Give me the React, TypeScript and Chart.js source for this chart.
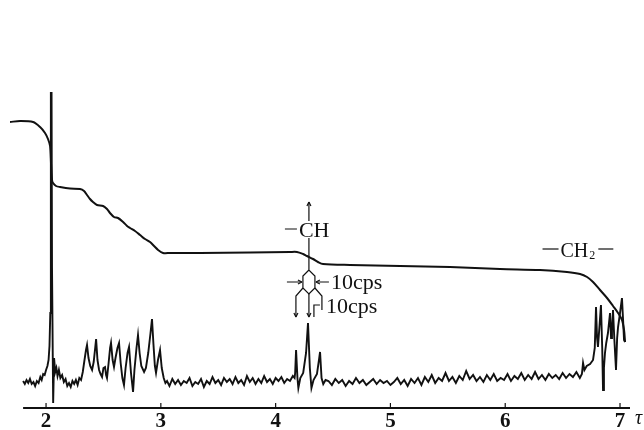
import React, { useEffect, useRef } from "react";
import { Chart, registerables } from "chart.js";

Chart.register(...registerables);

// Chemical shift axis (tau) and intensity (arbitrary units)
const tauTicks = [2, 3, 4, 5, 6, 7];
const tauMin = 1.686;
const tauMax = 7.087;
const axisStart = 1.8;

// NMR absorption trace [tau, intensity]
const spectrum: [number, number][] = [
  [1.8, 27], [1.815, 24], [1.83, 28], [1.845, 25], [1.86, 29], [1.875, 24], [1.89, 26], [1.905, 22],
  [1.92, 27], [1.935, 25], [1.95, 31], [1.962, 28], [1.975, 34], [1.988, 33], [2.0, 38], [2.012, 42],
  [2.022, 48], [2.03, 62], [2.037, 95], [2.042, 316], [2.045, 180], [2.048, 316], [2.052, 140], [2.062, 5],
  [2.07, 50], [2.08, 36], [2.09, 40], [2.1, 32], [2.112, 38], [2.125, 30], [2.14, 33], [2.155, 26],
  [2.17, 29], [2.185, 22], [2.2, 25], [2.215, 21], [2.23, 27], [2.245, 24], [2.26, 28], [2.275, 23],
  [2.29, 30], [2.305, 28], [2.32, 36], [2.335, 48], [2.348, 58], [2.357, 63], [2.37, 50], [2.385, 42],
  [2.401, 38], [2.415, 46], [2.428, 60], [2.436, 69], [2.448, 48], [2.462, 38], [2.475, 34], [2.488, 31],
  [2.5, 40], [2.514, 41], [2.523, 33], [2.531, 30], [2.545, 45], [2.558, 60], [2.566, 65], [2.58, 48],
  [2.592, 41], [2.605, 50], [2.622, 60], [2.636, 65], [2.65, 45], [2.665, 30], [2.679, 23], [2.693, 40],
  [2.71, 55], [2.723, 61], [2.74, 35], [2.758, 16], [2.77, 38], [2.788, 60], [2.801, 73], [2.815, 55],
  [2.83, 42], [2.854, 36], [2.87, 40], [2.89, 55], [2.91, 75], [2.923, 89], [2.935, 65], [2.948, 42],
  [2.958, 35], [2.975, 48], [2.993, 58], [3.008, 40], [3.025, 30], [3.04, 25], [3.054, 27],
  [3.075, 22], [3.1, 29], [3.125, 24], [3.15, 28], [3.175, 23], [3.2, 27], [3.225, 25], [3.25, 30],
  [3.275, 22], [3.3, 26], [3.325, 24], [3.35, 29], [3.375, 21], [3.4, 27], [3.425, 24], [3.45, 31],
  [3.475, 25], [3.5, 28], [3.525, 23], [3.55, 30], [3.575, 26], [3.6, 29], [3.625, 24], [3.65, 31],
  [3.675, 25], [3.7, 28], [3.725, 23], [3.75, 32], [3.775, 26], [3.8, 30], [3.825, 24], [3.85, 29],
  [3.875, 25], [3.9, 32], [3.925, 26], [3.95, 29], [3.975, 24], [4.0, 30], [4.025, 27], [4.05, 31],
  [4.075, 25], [4.1, 29], [4.125, 27], [4.15, 32], [4.165, 30],
  [4.17, 35], [4.178, 58], [4.19, 30], [4.198, 20], [4.215, 30], [4.24, 35], [4.265, 55], [4.282, 85],
  [4.298, 40], [4.312, 20], [4.33, 28], [4.36, 34], [4.38, 50], [4.387, 56], [4.4, 30], [4.415, 24],
  [4.435, 28], [4.46, 27], [4.49, 23], [4.52, 29], [4.55, 25], [4.58, 28], [4.61, 22], [4.64, 27],
  [4.67, 24], [4.7, 30], [4.73, 25], [4.76, 28], [4.79, 23], [4.82, 26], [4.85, 29], [4.88, 24],
  [4.91, 28], [4.94, 25], [4.97, 27], [5.0, 23], [5.03, 26], [5.06, 30], [5.09, 24], [5.12, 28],
  [5.15, 22], [5.18, 29], [5.21, 25], [5.24, 30], [5.27, 23], [5.3, 31], [5.33, 26], [5.36, 33],
  [5.39, 25], [5.42, 30], [5.45, 27], [5.48, 35], [5.51, 27], [5.54, 31], [5.57, 25], [5.6, 32],
  [5.63, 28], [5.66, 37], [5.69, 29], [5.72, 33], [5.75, 27], [5.78, 31], [5.81, 26], [5.84, 33],
  [5.87, 28], [5.9, 34], [5.93, 27], [5.96, 30], [5.99, 28], [6.02, 34], [6.05, 27], [6.08, 32],
  [6.11, 29], [6.14, 35], [6.17, 28], [6.2, 33], [6.23, 29], [6.26, 36], [6.29, 29], [6.32, 33],
  [6.35, 28], [6.38, 34], [6.41, 30], [6.44, 33], [6.47, 29], [6.5, 35], [6.53, 30], [6.56, 34],
  [6.59, 31], [6.62, 36], [6.65, 30], [6.668, 34], [6.678, 45], [6.69, 38], [6.71, 42], [6.739, 44],
  [6.765, 48], [6.78, 60], [6.791, 101], [6.8, 70], [6.808, 61], [6.82, 80], [6.834, 103], [6.845, 60],
  [6.852, 18], [6.86, 40], [6.869, 55], [6.88, 65], [6.895, 75], [6.913, 95], [6.922, 70], [6.93, 78],
  [6.939, 98], [6.95, 70], [6.965, 38], [6.975, 70], [6.983, 81], [7.0, 95], [7.017, 110], [7.028, 85],
  [7.035, 68], [7.044, 66],
];

// Integral curve [tau, height]
const integral: [number, number][] = [
  [1.686, 286], [1.774, 287], [1.887, 286], [1.948, 281], [1.991, 275], [2.017, 269], [2.035, 262],
  [2.044, 243], [2.052, 228], [2.061, 225], [2.087, 222], [2.122, 221], [2.209, 219.5], [2.296, 219],
  [2.331, 217], [2.357, 213], [2.383, 209], [2.409, 206], [2.444, 203], [2.497, 202], [2.531, 199],
  [2.557, 195], [2.592, 191], [2.627, 190], [2.671, 186], [2.706, 182], [2.732, 180], [2.775, 177],
  [2.819, 173], [2.862, 169], [2.906, 166], [2.941, 162], [2.976, 158], [3.019, 155], [3.08, 155],
  [3.341, 155], [3.777, 155.5], [4.125, 156], [4.186, 156], [4.239, 154], [4.273, 152], [4.326, 149],
  [4.369, 146], [4.413, 144], [4.648, 143], [5.084, 142], [5.519, 141], [5.955, 139], [6.303, 138],
  [6.538, 136], [6.652, 134], [6.713, 131], [6.765, 126], [6.826, 118], [6.887, 110], [6.939, 102],
  [6.983, 95], [7.017, 88], [7.035, 78], [7.044, 66],
];

const chLabel = "CH";
const ch2Label = "CH";
const ch2Sub = "2";
const splitLabel = "10cps";
const axisSymbol = "τ";

const SERIF = '"Liberation Serif", "DejaVu Serif", serif';

function arrowHead(ctx: CanvasRenderingContext2D, x: number, y: number, dx: number, dy: number) {
  const s = 4;
  ctx.beginPath();
  ctx.moveTo(x, y);
  ctx.lineTo(x - dx * s - dy * s * 0.5, y - dy * s - dx * s * 0.5);
  ctx.moveTo(x, y);
  ctx.lineTo(x - dx * s + dy * s * 0.5, y - dy * s + dx * s * 0.5);
  ctx.stroke();
}

const decorPlugin = {
  id: "decor",
  afterDraw(chart: any) {
    const ctx: CanvasRenderingContext2D = chart.ctx;
    const xs = chart.scales.x;
    const ys = chart.scales.y;
    ctx.save();
    ctx.strokeStyle = "#111";
    ctx.fillStyle = "#111";
    // axis line
    const yb = ys.bottom;
    ctx.lineWidth = 2;
    ctx.beginPath();
    ctx.moveTo(xs.getPixelForValue(axisStart), yb);
    ctx.lineTo(xs.right, yb);
    ctx.stroke();
    // tick marks pointing up
    ctx.lineWidth = 1.2;
    tauTicks.forEach((t) => {
      const px = xs.getPixelForValue(t);
      ctx.beginPath();
      ctx.moveTo(px, yb);
      ctx.lineTo(px, yb - 5);
      ctx.stroke();
    });
    // tau symbol
    ctx.font = `italic 20px ${SERIF}`;
    ctx.textBaseline = "middle";
    ctx.textAlign = "left";
    ctx.fillText(axisSymbol, xs.right + 5, yb + 11);

    // CH annotation with splitting diagram
    const ax = xs.getPixelForValue(4.29);
    const ay = ys.getPixelForValue(150);
    ctx.lineWidth = 1.2;
    ctx.beginPath();
    ctx.moveTo(ax, ay - 56);
    ctx.lineTo(ax, ay - 37);
    ctx.moveTo(ax, ay - 20);
    ctx.lineTo(ax, ay + 12);
    ctx.moveTo(ax - 24, ay - 29);
    ctx.lineTo(ax - 12, ay - 29);
    // hexagon
    ctx.moveTo(ax, ay + 12);
    ctx.lineTo(ax - 6, ay + 18);
    ctx.lineTo(ax - 6, ay + 30);
    ctx.lineTo(ax, ay + 36);
    ctx.lineTo(ax + 6, ay + 30);
    ctx.lineTo(ax + 6, ay + 18);
    ctx.closePath();
    ctx.stroke();
    // horizontal arrows
    ctx.beginPath();
    ctx.moveTo(ax - 22, ay + 24);
    ctx.lineTo(ax - 7, ay + 24);
    ctx.moveTo(ax + 20, ay + 24);
    ctx.lineTo(ax + 7, ay + 24);
    ctx.stroke();
    arrowHead(ctx, ax - 7, ay + 24, 1, 0);
    arrowHead(ctx, ax + 7, ay + 24, -1, 0);
    // prongs
    ctx.beginPath();
    ctx.moveTo(ax - 6, ay + 30);
    ctx.lineTo(ax - 13, ay + 38);
    ctx.lineTo(ax - 13, ay + 59);
    ctx.moveTo(ax, ay + 36);
    ctx.lineTo(ax, ay + 59);
    ctx.moveTo(ax + 6, ay + 30);
    ctx.lineTo(ax + 13, ay + 38);
    ctx.lineTo(ax + 13, ay + 52);
    ctx.moveTo(ax + 5, ay + 59);
    ctx.lineTo(ax + 5, ay + 47);
    ctx.lineTo(ax + 11, ay + 47);
    ctx.stroke();
    arrowHead(ctx, ax - 13, ay + 59, 0, 1);
    arrowHead(ctx, ax, ay + 59, 0, 1);
    arrowHead(ctx, ax, ay - 56, 0, -1);

    ctx.font = `22px ${SERIF}`;
    ctx.textAlign = "left";
    ctx.textBaseline = "alphabetic";
    ctx.fillText(chLabel, ax - 10, ay - 21);
    ctx.textBaseline = "middle";
    ctx.fillText(splitLabel, ax + 22, ay + 25);
    ctx.fillText(splitLabel, ax + 17, ay + 49);

    // CH2 annotation
    const bx = xs.getPixelForValue(6.9);
    const by = ys.getPixelForValue(150);
    ctx.lineWidth = 1.2;
    ctx.beginPath();
    ctx.moveTo(bx - 66, by - 9);
    ctx.lineTo(bx - 50, by - 9);
    ctx.stroke();
    ctx.font = `20px ${SERIF}`;
    ctx.textBaseline = "alphabetic";
    ctx.fillText(ch2Label, bx - 48, by - 1);
    const w = ctx.measureText(ch2Label).width;
    ctx.font = `12px ${SERIF}`;
    ctx.fillText(ch2Sub, bx - 48 + w + 1, by + 1);
    const w2 = ctx.measureText(ch2Sub).width;
    const dStart = bx - 48 + w + 1 + w2 + 3;
    ctx.beginPath();
    ctx.moveTo(dStart, by - 9);
    ctx.lineTo(dStart + 15, by - 9);
    ctx.stroke();
    ctx.restore();
  },
};

export default function App() {
  const ref = useRef<HTMLCanvasElement | null>(null);
  useEffect(() => {
    if (!ref.current) return;
    const chart = new Chart(ref.current, {
      type: "line",
      data: {
        datasets: [
          {
            data: spectrum.map(([x, y]) => ({ x, y })),
            borderColor: "#111",
            borderWidth: 1.9,
            pointRadius: 0,
            tension: 0,
            fill: false,
          },
          {
            data: integral.map(([x, y]) => ({ x, y })),
            borderColor: "#111",
            borderWidth: 2,
            pointRadius: 0,
            tension: 0.3,
            fill: false,
          },
        ],
      },
      options: {
        animation: false,
        responsive: false,
        devicePixelRatio: 1,
        layout: { padding: { left: 10, right: 14, top: 8, bottom: 0 } },
        plugins: { legend: { display: false }, tooltip: { enabled: false } },
        scales: {
          x: {
            type: "linear",
            min: tauMin,
            max: tauMax,
            afterFit: (s: any) => {
              s.height = 22;
            },
            grid: { display: false, drawTicks: false },
            border: { display: false },
            ticks: {
              includeBounds: false,
              stepSize: 1,
              autoSkip: false,
              maxRotation: 0,
              padding: 3,
              color: "#111",
              font: { family: SERIF, size: 21, weight: "bold", lineHeight: 1 },
              callback: (v: any) => (tauTicks.includes(Number(v)) ? String(v) : ""),
            },
          },
          y: { display: false, min: 0, max: 400 },
        },
      },
      plugins: [decorPlugin],
    } as any);
    return () => chart.destroy();
  }, []);
  return (
    <div style={{ position: "fixed", left: 0, top: 0, width: 644, height: 430, background: "#fff" }}>
      <canvas ref={ref} width={644} height={430} />
    </div>
  );
}
